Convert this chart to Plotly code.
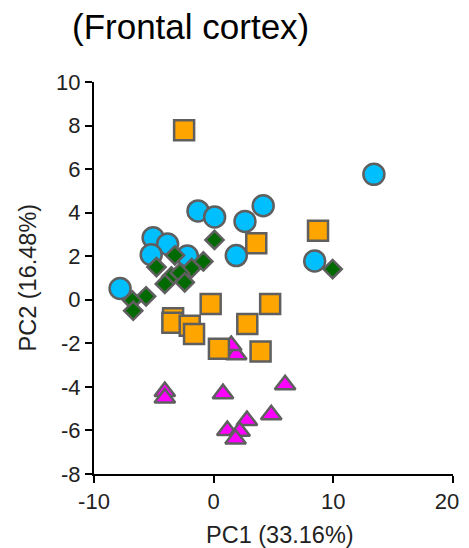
import plotly.graph_objects as go

# Blue circles
circ_x = [13.39, 4.14, -1.31, 0.08, 2.62, -5.06, -3.85, -5.22, -2.2, 1.89, 8.44, -7.82]
circ_y = [5.76, 4.32, 4.08, 3.80, 3.60, 2.85, 2.56, 2.07, 2.01, 2.03, 1.78, 0.52]
# Orange squares
sq_x = [-2.47, 8.72, 3.56, -0.25, 4.72, -3.39, -3.45, -2.0, -1.64, 2.81, 0.44, 3.92]
sq_y = [7.78, 3.17, 2.59, -0.19, -0.19, -0.85, -1.05, -1.19, -1.57, -1.11, -2.25, -2.37]
# Green diamonds
dia_x = [0.07, -3.24, -0.86, -4.78, -1.84, -3.53, -2.83, -4.08, -2.42, -5.65, -6.8, -6.72, 9.94]
dia_y = [2.75, 2.04, 1.76, 1.50, 1.45, 1.07, 1.23, 0.73, 0.80, 0.16, -0.03, -0.5, 1.41]
# Magenta triangles
tri_x = [-4.08, -4.08, 0.78, 5.97, 4.81, 2.78, 1.14, 2.17, 1.83, 1.89, 1.47]
tri_y = [-4.21, -4.51, -4.31, -3.90, -5.28, -5.54, -6.0, -6.04, -6.39, -2.52, -2.1]

x_ticks = [-10, 0, 10, 20]
x_labels = ["-10", "0", "10", "20\u00a0\u00a0"]  # padding keeps the last label inside the page
y_ticks = [-8, -6, -4, -2, 0, 2, 4, 6, 8, 10]

edge = dict(color="#5f5f5f", width=2.5)
fig = go.Figure()
fig.add_trace(go.Scatter(x=tri_x, y=tri_y, mode="markers",
                         marker=dict(symbol="triangle-up", size=18, color="#FF00FF", line=edge)))
fig.add_trace(go.Scatter(x=sq_x, y=sq_y, mode="markers",
                         marker=dict(symbol="square", size=20, color="#FFA500", line=edge)))
fig.add_trace(go.Scatter(x=circ_x, y=circ_y, mode="markers",
                         marker=dict(symbol="circle", size=21, color="#00BFFF", line=edge)))
fig.add_trace(go.Scatter(x=dia_x, y=dia_y, mode="markers",
                         marker=dict(symbol="diamond", size=14, color="#006A00", line=edge)))

FONT = "Liberation Sans, Arial"
axis_common = dict(showgrid=False, zeroline=False, showline=True, linecolor="black",
                   linewidth=2, ticks="outside", ticklen=7, tickwidth=2, tickcolor="black",
                   automargin=False, ticklabeloverflow="allow",
                   tickfont=dict(family=FONT, size=22, color="#222222"))

W, H = 461, 540
L, T, R = 86, 74, 16
PW, PH = W - L - R, 392
B = H - T - PH

fig.update_layout(
    width=W, height=H,
    margin=dict(l=L, r=R, t=T, b=B),
    plot_bgcolor="white", paper_bgcolor="white",
    showlegend=False,
    font=dict(family=FONT, color="black"),
    xaxis=dict(range=[-10, 20], tickvals=x_ticks, ticktext=x_labels,
               **axis_common),
    yaxis=dict(range=[-8, 10], tickvals=y_ticks, ticktext=[str(v) for v in y_ticks],
               **axis_common),
    annotations=[
        dict(text="(Frontal cortex)", xref="paper", yref="paper",
             x=-24 / PW, y=1 + 55.5 / PH, xanchor="left", yanchor="middle",
             showarrow=False, font=dict(size=35, color="black")),
        dict(text="PC1 (33.16%)", xref="paper", yref="paper",
             x=(272 - L) / PW, y=-(527 - (T + PH)) / PH, xanchor="center", yanchor="middle",
             showarrow=False, font=dict(size=23.5, color="#222222")),
        dict(text="PC2 (16.48%)", xref="paper", yref="paper", textangle=-90,
             x=(19.5 - L) / PW, y=0.5, xanchor="center", yanchor="middle",
             showarrow=False, font=dict(size=23.5, color="#222222")),
    ],
)

fig.write_html("out.html")
